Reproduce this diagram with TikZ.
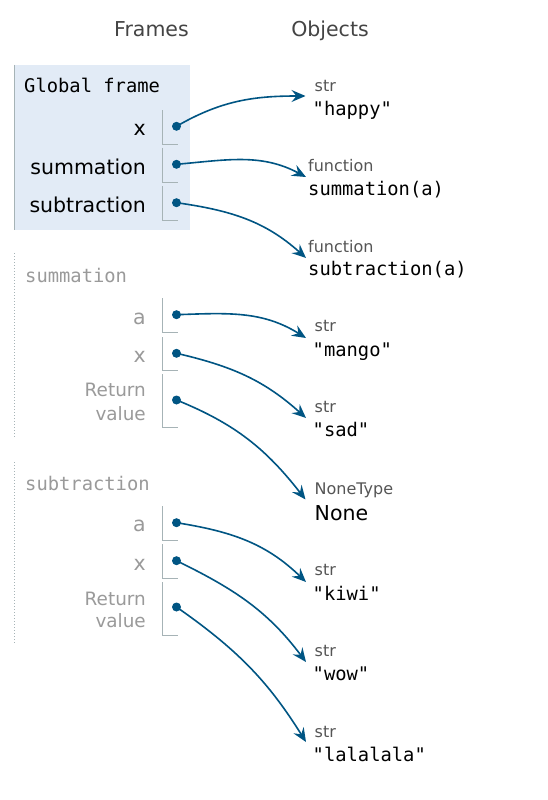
\documentclass[tikz,border=0pt]{standalone}
\usepackage{fontspec}
\setmainfont{DejaVu Sans}
\setmonofont{DejaVu Sans Mono}
\usetikzlibrary{arrows.meta}
\definecolor{conn}{HTML}{005583}
\definecolor{gframebg}{HTML}{E2EBF6}
\definecolor{fborder}{HTML}{A6B3B6}
\definecolor{graylab}{HTML}{9A9A9A}
\definecolor{typec}{HTML}{555555}
\definecolor{hdrc}{HTML}{444444}
\begin{document}
\begin{tikzpicture}[x=1pt,y=1pt,
  hdr/.style={anchor=base, inner sep=0pt, text=hdrc, font=\fontsize{20.5}{24}\selectfont},
  ftitle/.style={anchor=base west, inner sep=0pt, font=\fontsize{18.8}{22}\ttfamily},
  vlab/.style={anchor=base east, inner sep=0pt, font=\fontsize{20.5}{24}\selectfont},
  glab/.style={vlab, text=black},
  flab/.style={vlab, text=graylab},
  rlab/.style={flab, font=\fontsize{18.4}{22}\selectfont},
  brk/.style={draw=fborder, line width=1pt},
  dotn/.style={circle, fill=conn, inner sep=0pt, minimum size=9pt},
  typ/.style={anchor=base west, inner sep=0pt, text=typec, font=\fontsize{16}{19}\selectfont},
  val/.style={anchor=base west, inner sep=0pt, text=black, font=\fontsize{18.8}{22}\ttfamily},
  sval/.style={anchor=base west, inner sep=0pt, text=black, font=\fontsize{20.5}{24}\selectfont},
  ptr/.style={draw=conn, line width=1.6pt, -{Stealth[length=14pt,width=12pt,inset=5pt]}},
  dotborder/.style={draw=fborder, line width=1pt, dash pattern=on 1pt off 2pt}
]
\useasboundingbox (0,0) rectangle (548,-800);
\fill[white] (0,0) rectangle (548,-800);

% headers
\node[hdr] (hframes) at (151.5,-36.5) {Frames};
\node[hdr] (hobjects) at (330,-36.5) {Objects};

% global frame
\fill[gframebg] (14.5,-65) rectangle (190,-230);
\draw[fborder, line width=1pt] (14.5,-65) -- (14.5,-230);
\node[ftitle] (gtitle) at (24,-92.7) {Global frame};

\node[glab] (lgx) at (146,-135.7) {x};
\draw[brk] (162.5,-110) -- (162.5,-144.3) -- (178,-144.3);
\node[dotn] (dgx) at (176.5,-126.3) {};

\node[glab] (lgsum) at (146,-174) {summation};
\draw[brk] (162.5,-147.7) -- (162.5,-182.3) -- (178,-182.3);
\node[dotn] (dgsum) at (176.5,-164.3) {};

\node[glab] (lgsub) at (146,-212) {subtraction};
\draw[brk] (162.5,-186) -- (162.5,-220) -- (178,-220);
\node[dotn] (dgsub) at (176.5,-202.7) {};

% summation frame
\draw[dotborder] (14.5,-253) -- (14.5,-438);
\node[ftitle, text=graylab] (stitle) at (25,-282) {summation};

\node[flab] (lsa) at (146,-324) {a};
\draw[brk] (162.5,-298) -- (162.5,-332) -- (178,-332);
\node[dotn] (dsa) at (176.5,-314.7) {};

\node[flab] (lsx) at (146,-362.3) {x};
\draw[brk] (162.5,-337) -- (162.5,-370) -- (178,-370);
\node[dotn] (dsx) at (176.5,-353.3) {};

\node[rlab] (lsr1) at (146,-396.7) {Return};
\node[rlab] (lsr2) at (146,-420) {value};
\draw[brk] (162.5,-374) -- (162.5,-427) -- (178,-427);
\node[dotn] (dsr) at (176.5,-400) {};

% subtraction frame
\draw[dotborder] (14.5,-462) -- (14.5,-643);
\node[ftitle, text=graylab] (btitle) at (25,-490) {subtraction};

\node[flab] (lba) at (146,-531.7) {a};
\draw[brk] (162.5,-506) -- (162.5,-540) -- (178,-540);
\node[dotn] (dba) at (176.5,-522.7) {};

\node[flab] (lbx) at (146,-570) {x};
\draw[brk] (162.5,-544) -- (162.5,-578) -- (178,-578);
\node[dotn] (dbx) at (176.5,-560.7) {};

\node[rlab] (lbr1) at (146,-605) {Return};
\node[rlab] (lbr2) at (146,-627.7) {value};
\draw[brk] (162.5,-582) -- (162.5,-635) -- (178,-635);
\node[dotn] (dbr) at (176.5,-607) {};

% objects
\node[typ] (thappy) at (314.5,-91.7) {str};
\node[val] (ohappy) at (312.5,-115) {"happy"};
\coordinate (ahappy) at (305.5,-96);

\node[typ] (tfsum) at (308,-171.7) {function};
\node[val] (ofsum) at (308,-195) {summation(a)};
\coordinate (afsum) at (306,-177);

\node[typ] (tfsub) at (308,-252.7) {function};
\node[val] (ofsub) at (308,-275) {subtraction(a)};
\coordinate (afsub) at (306,-258);

\node[typ] (tmango) at (314.5,-331.7) {str};
\node[val] (omango) at (312.5,-356.7) {"mango"};
\coordinate (amango) at (306,-338);

\node[typ] (tsad) at (314.5,-412.7) {str};
\node[val] (osad) at (312.5,-436.7) {"sad"};
\coordinate (asad) at (306,-418);

\node[typ] (tnone) at (314.5,-494) {NoneType};
\node[sval] (onone) at (314.5,-520.7) {None};
\coordinate (anone) at (305.5,-499.5);

\node[typ] (tkiwi) at (314.5,-575) {str};
\node[val] (okiwi) at (312.5,-600) {"kiwi"};
\coordinate (akiwi) at (306,-582);

\node[typ] (twow) at (314.5,-656) {str};
\node[val] (owow) at (312.5,-680) {"wow"};
\coordinate (awow) at (306,-662);

\node[typ] (tlala) at (314.5,-737.3) {str};
\node[val] (olala) at (312.5,-761.7) {"lalalala"};
\coordinate (alala) at (306,-742);

% pointers
\draw[ptr] (dgx.center) to[out=30,in=180] (ahappy);
\draw[ptr] (dgsum.center) to[out=5,in=152] (afsum);
\draw[ptr] (dgsub.center) to[out=-8,in=138] (afsub);
\draw[ptr] (dsa.center) to[out=2,in=148] (amango);
\draw[ptr] (dsx.center) to[out=-13,in=138] (asad);
\draw[ptr] (dsr.center) to[out=-22,in=128] (anone);
\draw[ptr] (dba.center) to[out=-9,in=136] (akiwi);
\draw[ptr] (dbx.center) to[out=-26,in=127] (awow);
\draw[ptr] (dbr.center) to[out=-35,in=122] (alala);
\end{tikzpicture}
\end{document}
